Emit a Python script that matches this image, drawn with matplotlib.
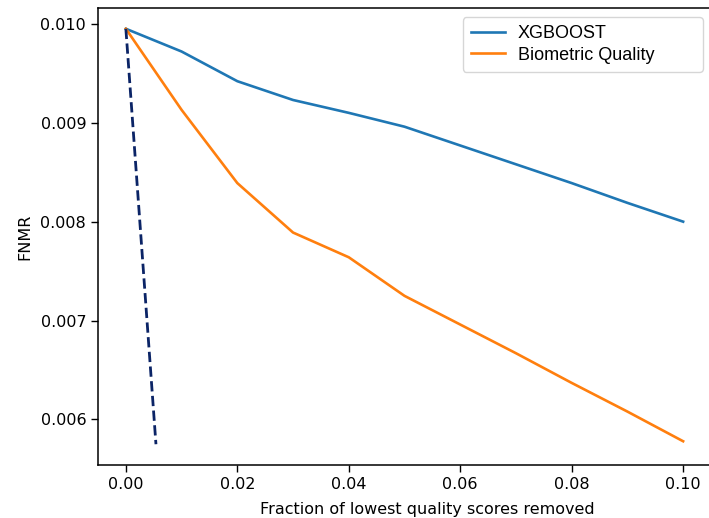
import matplotlib
matplotlib.use("Agg")
import matplotlib.pyplot as plt

# fraction of lowest quality scores removed
fractions = [0.0, 0.01, 0.02, 0.03, 0.04, 0.05, 0.06, 0.07, 0.08, 0.09, 0.10]

# FNMR
fnmr_xgboost = [0.00995, 0.00972, 0.00942, 0.00923, 0.00910, 0.00896,
                0.00877, 0.00858, 0.00839, 0.00819, 0.00800]
fnmr_biometric = [0.00995, 0.00913, 0.00839, 0.00789, 0.00764, 0.00725,
                  0.00696, 0.00667, 0.00637, 0.00608, 0.00578]

# steep dashed reference line
ideal_x = [0.0, 0.0054]
ideal_y = [0.00995, 0.00575]

fig = plt.figure(figsize=(7.09, 5.18), dpi=100)
ax = fig.add_axes([98 / 709, 1 - 465 / 518, 613 / 709, 457 / 518])

ax.plot(fractions, fnmr_xgboost, color='#1f77b4', lw=1.9, label='XGBOOST')
ax.plot(fractions, fnmr_biometric, color='#ff7f0e', lw=1.9, label='Biometric Quality')
ax.plot(ideal_x, ideal_y, color='#0b2466', lw=2.0, ls='--')

ax.set_xticks([0.0, 0.02, 0.04, 0.06, 0.08, 0.10])
ax.set_xticklabels(['0.00', '0.02', '0.04', '0.06', '0.08', '0.10'])
ax.set_yticks([0.006, 0.007, 0.008, 0.009, 0.010])
ax.set_yticklabels(['0.006', '0.007', '0.008', '0.009', '0.010'])
ax.tick_params(labelsize=11.5, length=5, width=1.0)
for s in ax.spines.values():
    s.set_linewidth(1.1)

ax.set_xlabel('Fraction of lowest quality scores removed', fontsize=11.5)
ax.xaxis.set_label_coords(0.537, -0.082, transform=ax.transAxes)
ax.xaxis.label.set_verticalalignment('top')
ax.set_ylabel('FNMR', fontsize=11.5, labelpad=6)

# wide legend box, text left-aligned
ax.legend(loc='upper right', bbox_to_anchor=(0.595, 0.857, 0.392, 0.123),
          mode='expand', borderaxespad=0, labelspacing=0.25, borderpad=0.45,
          handlelength=1.9, handletextpad=0.7,
          prop={'family': 'Liberation Sans', 'size': 13})

fig.savefig('out.png', dpi=100)
